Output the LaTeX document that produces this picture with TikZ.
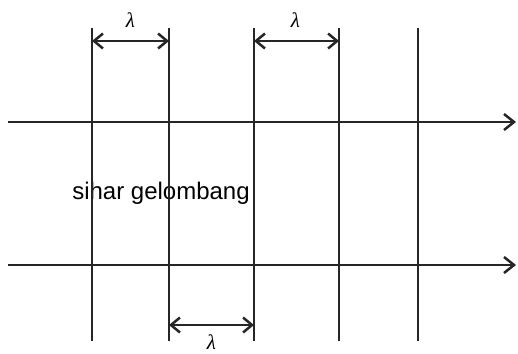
\documentclass[tikz,border=0pt]{standalone}
\usepackage{fontspec}
\setmainfont{Liberation Sans}
\newfontfamily\lamfont{Liberation Serif}
\usetikzlibrary{arrows.meta}
\begin{document}
\begin{tikzpicture}[x=1pt,y=-1pt,
  wline/.style={line width=2.5pt,draw=black!85},
  ray/.style={wline,-{Straight Barb[length=10pt,width=16pt,line width=2.5pt]}},
  dim/.style={wline,{Straight Barb[length=9pt,width=15pt,line width=2.5pt]}-{Straight Barb[length=9pt,width=15pt,line width=2.5pt]}},
  lam/.style={font=\lamfont\itshape\fontsize{21}{21}\selectfont, inner sep=0pt}]
\useasboundingbox (0,0) rectangle (518,353);
% text first (lines drawn over it)
\node[font=\fontsize{24}{24}\selectfont, inner sep=0pt, anchor=base] (txt) at (161,199) {sihar gelombang};
% vertical wavefronts
\foreach \n/\x in {1/92,2/169,3/254,4/339,5/418}{
  \coordinate (t\n) at (\x,28);
  \coordinate (b\n) at (\x,341);
  \draw[wline] (t\n) -- (b\n);
}
% rays
\coordinate (r1s) at (8,122);
\coordinate (r1e) at (516,122);
\coordinate (r2s) at (8,265);
\coordinate (r2e) at (516,265);
\draw[ray] (r1s) -- (r1e);
\draw[ray] (r2s) -- (r2e);
% dimension arrows
\coordinate (d1a) at (92,41);  \coordinate (d1b) at (169,41);
\coordinate (d2a) at (254,41); \coordinate (d2b) at (339,41);
\coordinate (d3a) at (169,325); \coordinate (d3b) at (254,325);
\draw[dim] (d1a) -- (d1b);
\draw[dim] (d2a) -- (d2b);
\draw[dim] (d3a) -- (d3b);
\node[lam] (l1) at (130.5,20) {λ};
\node[lam] (l2) at (295.5,20) {λ};
\node[lam] (l3) at (211.5,342) {λ};
\end{tikzpicture}
\end{document}
